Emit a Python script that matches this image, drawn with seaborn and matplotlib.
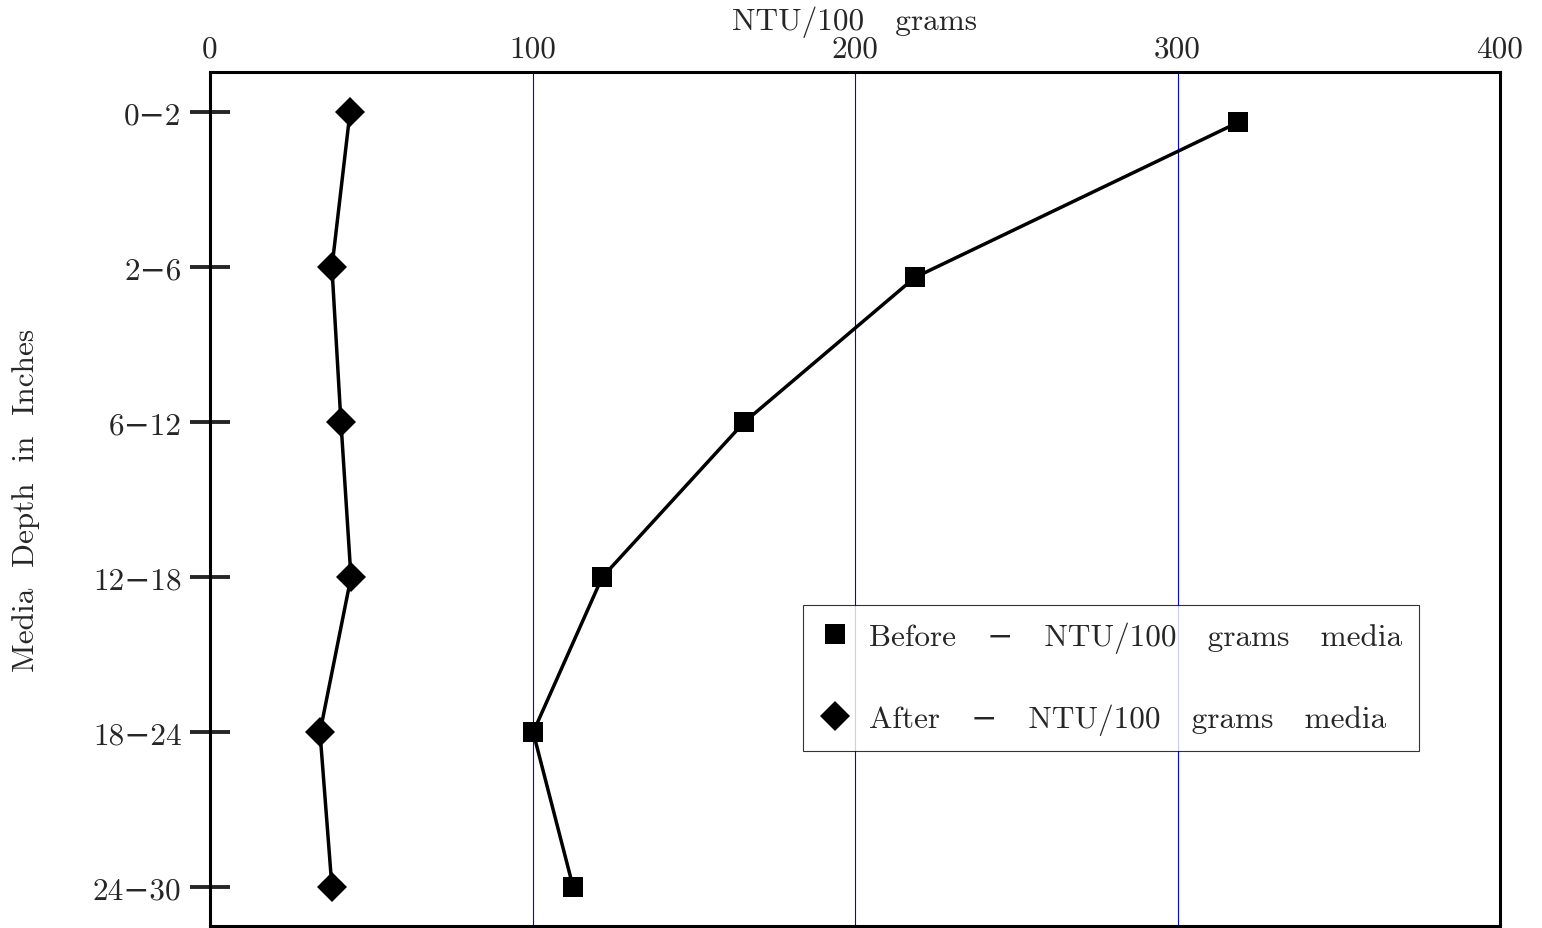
import numpy as np
import pandas as pd
import matplotlib
matplotlib.use("Agg")
import matplotlib.pyplot as plt
from matplotlib.lines import Line2D
import seaborn as sns

# data
depth_labels = ["0\u22122", "2\u22126", "6\u221212", "12\u221218", "18\u221224", "24\u221230"]
before_ntu = [318.8, 218.6, 165.6, 121.6, 100.2, 112.6]
after_ntu = [43.4, 37.8, 40.6, 43.7, 34.1, 37.8]
# the first two "before" points sit a little below their tick in the original
before_pos = [0.065, 1.065, 2, 3, 4, 5]
after_pos = [0, 1, 2, 3, 4, 5]
x_ticks = [0, 100, 200, 300, 400]

sns.set_style("white")
plt.rcParams["font.family"] = ["cmr10", "DejaVu Serif"]
plt.rcParams["axes.formatter.use_mathtext"] = True
fs = 22.5

fig = plt.figure(figsize=(15.42, 9.29), dpi=100)
ax = fig.add_axes([0.1362, 0.0022, 0.8366, 0.9192])

before_df = pd.DataFrame({"ntu": before_ntu, "pos": before_pos})
after_df = pd.DataFrame({"ntu": after_ntu, "pos": after_pos})

sns.lineplot(data=before_df, x="ntu", y="pos", orient="y", sort=False, estimator=None,
             color="black", linewidth=2.5, marker="s", markersize=15,
             markeredgewidth=0, legend=False, ax=ax)
sns.lineplot(data=after_df, x="ntu", y="pos", orient="y", sort=False, estimator=None,
             color="black", linewidth=2.5, marker="D", markersize=15,
             markeredgewidth=0, legend=False, ax=ax)

ax.set_xlim(0, 400)
ax.set_ylim(5.25, -0.26)
ax.xaxis.tick_top()
ax.xaxis.set_label_position("top")
ax.set_xticks(x_ticks)
ax.set_xticklabels([str(t) for t in x_ticks])
ax.set_yticks(range(len(depth_labels)))
ax.set_yticklabels(depth_labels)
ax.tick_params(axis="x", length=0, pad=7, labelsize=fs)
ax.tick_params(axis="y", direction="inout", length=29, width=2.8, pad=6, labelsize=fs,
               left=True)

for x in x_ticks[1:-1]:
    ax.axvline(x, color="blue", linewidth=0.8, zorder=0)

for s in ax.spines.values():
    s.set_visible(True)
    s.set_color("black")
    s.set_linewidth(2.2)

ax.set_xlabel("NTU/100   grams", fontsize=fs, labelpad=4)
ax.set_ylabel("Media  Depth  in  Inches", fontsize=fs)
ax.yaxis.set_label_coords(-0.132, 0.5)

handles = [
    Line2D([], [], color="black", marker="s", markersize=15, linestyle="none", markeredgewidth=0),
    Line2D([], [], color="black", marker="D", markersize=15, linestyle="none", markeredgewidth=0),
]
leg = ax.legend(handles, ["Before   \u2212   NTU/100   grams   media",
                          "After   \u2212   NTU/100   grams   media"],
                loc="upper left", bbox_to_anchor=(0.4597, 0.376), borderaxespad=0,
                fontsize=fs, frameon=True, fancybox=False, edgecolor="black",
                labelspacing=1.62, handlelength=1.0, handletextpad=0.6, borderpad=0.52)
leg.get_frame().set_linewidth(0.8)

fig.savefig("out.png", dpi=100)
